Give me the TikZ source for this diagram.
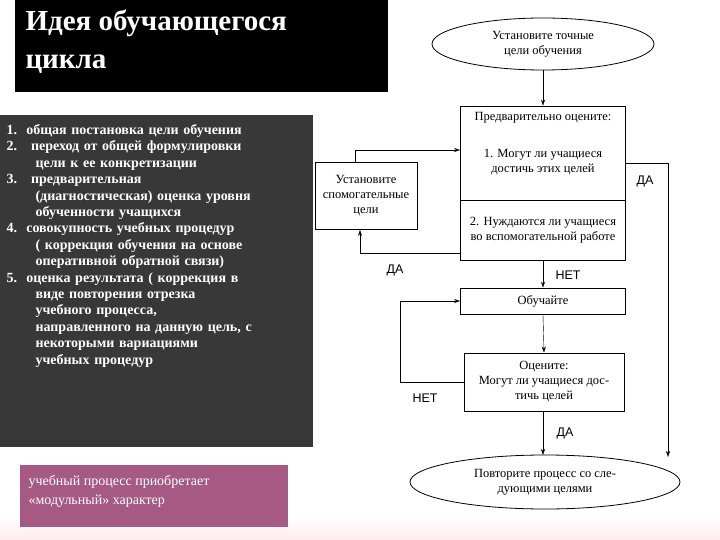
\documentclass[tikz,border=0pt]{standalone}
\usepackage{fontspec}
\setmainfont{Liberation Serif}
\newfontfamily\lsans{Liberation Sans}
\usetikzlibrary{shapes.geometric,arrows.meta}
\begin{document}
\begin{tikzpicture}[x=1pt,y=-1pt,
  box/.style={draw,thick,inner sep=0pt,align=center,font=\fontsize{12.5}{15}\selectfont},
  arr/.style={-{Stealth[length=6pt,width=4pt]}},
  lbl/.style={font=\lsans\fontsize{12.5}{15}\selectfont}]
\useasboundingbox (0,0) rectangle (720,540);
\fill[white] (0,0) rectangle (720,540);
\shade[top color=white,bottom color=pink!30] (0,515) rectangle (720,540);
\fill[black] (15,0) rectangle (388,92);
\node[anchor=north west,text=white,font=\bfseries\fontsize{29}{38}\selectfont,align=left] (title) at (22,6) {Идея обучающегося\\цикла};
\fill[black!78] (0,115) rectangle (313,447);
\node[anchor=north west,text=white,font=\bfseries\fontsize{14}{16.4}\selectfont,align=left,text width=308] (list) at (3,121) {%
1.\ \ общая постановка цели обучения\\
2.\ \ \ переход от общей формулировки\\
\hspace*{29pt}цели к ее конкретизации\\
3.\ \ \ предварительная\\
\hspace*{29pt}(диагностическая) оценка уровня\\
\hspace*{29pt}обученности учащихся\\
4.\ \ совокупность учебных процедур\\
\hspace*{29pt}( коррекция обучения на основе\\
\hspace*{29pt}оперативной обратной связи)\\
5.\ \ оценка результата ( коррекция в\\
\hspace*{29pt}виде повторения отрезка\\
\hspace*{29pt}учебного процесса,\\
\hspace*{29pt}направленного на данную цель, с\\
\hspace*{29pt}некоторыми вариациями\\
\hspace*{29pt}учебных процедур};
\fill[magenta!55!black!85!white] (20,465) rectangle (288,527);
\node[anchor=north west,text=white,font=\fontsize{14}{19}\selectfont,align=left] (note) at (25,472) {учебный процесс приобретает\\«модульный» характер};
% diagram
\node[box,ellipse,minimum width=222,minimum height=52] (e1) at (543,44) {Установите точные\\цели обучения};
\node[box,minimum width=165,minimum height=154] (big) at (543,183) {};
\draw[thick] (big.west |- 0,200) -- (big.east |- 0,200);
\node[font=\fontsize{12.5}{15}\selectfont] (p0) at (543,118) {Предварительно оцените:};
\node[font=\fontsize{12.5}{15}\selectfont,align=center] (p1) at (543,162) {1. Могут ли учащиеся\\достичь этих целей};
\node[font=\fontsize{12.5}{15}\selectfont,align=center] (p2) at (543,230) {2. Нуждаются ли учащиеся\\во вспомогательной работе};
\node[box,minimum width=102,minimum height=67] (aux) at (366,196) {Установите\\спомогательные\\цели};
\node[box,minimum width=165,minimum height=26] (teach) at (543,301) {Обучайте};
\node[box,minimum width=160,minimum height=58] (eval) at (544,382) {Оцените:\\Могут ли учащиеся дос-\\тичь целей};
\node[box,ellipse,minimum width=270,minimum height=54] (e2) at (545,482) {Повторите процесс со сле-\\дующими целями};
\coordinate (ea) at (543,70);
\draw[arr] (e1.south) -- (big.north);
\draw[arr] (aux.north -| 355,0) -- (355,150) -- (big.west |- 0,150);
\draw[arr] (big.west |- 0,253) -- (360,253) -- (aux.south -| 360,0);
\draw[arr] (big.east |- 0,163) -- (668,163) -- (668,457);
\draw[arr] (big.south) -- (teach.north);
\draw[arr] (teach.south) -- (eval.north);
\draw[arr] (eval.west) -- (400,382) -- (400,301) -- (teach.west);
\draw[arr] (eval.south -| 543,0) -- (543,455);
\node[lbl] (l1) at (395,270) {ДА};
\node[lbl] (l2) at (645,181) {ДА};
\node[lbl] (l3) at (568,275) {НЕТ};
\node[lbl] (l4) at (425,398) {НЕТ};
\node[lbl] (l5) at (565,433) {ДА};
\end{tikzpicture}
\end{document}
